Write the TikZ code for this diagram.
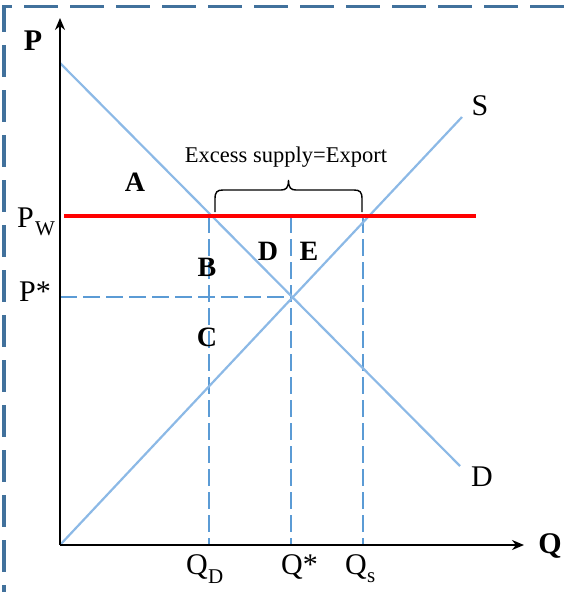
\documentclass[tikz,border=0pt]{standalone}
\usepackage{fontspec}
\setmainfont{Liberation Serif}
\usetikzlibrary{arrows.meta}
\definecolor{frameblue}{RGB}{65,113,156}
\definecolor{curveblue}{RGB}{140,185,230}
\definecolor{dashblue}{RGB}{91,155,213}
\tikzset{
  curve/.style={curveblue, line width=2.2pt},
  guide/.style={dashblue, line width=1.8pt, dash pattern=on 17pt off 6pt},
  pline/.style={red, line width=4.5pt},
  axis/.style={black, line width=1.8pt, -{Stealth[length=12pt,width=10pt]}},
  framel/.style={frameblue, line width=3.5pt},
  lbl/.style={inner sep=0pt, font=\fontsize{30}{30}\selectfont},
  sublbl/.style={inner sep=0pt, font=\fontsize{21}{21}\selectfont},
  blbl/.style={inner sep=0pt, font=\fontsize{28}{28}\selectfont\bfseries},
  axlbl/.style={inner sep=0pt, font=\fontsize{30}{30}\selectfont\bfseries},
  txt/.style={inner sep=0pt, font=\fontsize{22.5}{22.5}\selectfont},
  bracel/.style={black, line width=1.4pt},
}
\begin{document}
\begin{tikzpicture}[x=1pt,y=-1pt]
\useasboundingbox (0,0) rectangle (564,592);
% frame (top and left visible)
\coordinate (ftl) at (3,6.5);
\coordinate (ftr) at (564,6.5);
\coordinate (fl1) at (4,5);
\coordinate (fl2) at (4,592);
\draw[framel, dash pattern=on 34pt off 12pt, dash phase=25pt] (ftl) -- (ftr);
\draw[framel, dash pattern=on 32pt off 13pt, dash phase=5pt] (fl1) -- (fl2);
% key points
\coordinate (O) at (60,545);
\coordinate (ytop) at (60,18);
\coordinate (xend) at (524,545);
\coordinate (d1) at (60,63);
\coordinate (d2) at (460,466);
\coordinate (s1) at (60,545);
\coordinate (s2) at (462,117);
\coordinate (pw1) at (64,216);
\coordinate (pw2) at (476,216);
\coordinate (eq) at (291,297);
\coordinate (pstar) at (60,297);
\coordinate (qdt) at (209,216);
\coordinate (qdb) at (209,545);
\coordinate (qst) at (291,216);
\coordinate (qsb) at (291,545);
\coordinate (qsst) at (363,216);
\coordinate (qssb) at (363,545);
% guides
\draw[guide] (pstar) -- (eq);
\draw[guide] (qdt) -- (qdb);
\draw[guide] (qst) -- (qsb);
\draw[guide] (qsst) -- (qssb);
% curves
\draw[curve] (d1) -- (d2);
\draw[curve] (s1) -- (s2);
\draw[pline] (pw1) -- (pw2);
% axes
\draw[axis] (O) -- (ytop);
\draw[axis] (O) -- (xend);
% brace
\coordinate (bl) at (215,212);
\coordinate (bm) at (288.5,180);
\coordinate (br) at (362,212);
\draw[bracel] (bl) -- (215,199) .. controls (215,192) and (217,190) .. (223,190)
  -- (281,190) .. controls (286,190) and (288.5,188) .. (bm)
  .. controls (288.5,188) and (291,190) .. (296,190)
  -- (354,190) .. controls (360,190) and (362,192) .. (362,199) -- (br);
\node[txt, anchor=base] (exs) at (286,162) {Excess supply=Export};
% axis labels
\node[axlbl, anchor=base] (plab) at (33,50) {P};
\node[axlbl, anchor=base] (qlab) at (550,553) {Q};
\node[lbl, anchor=base] (slab) at (480,115) {S};
\node[lbl, anchor=base] (dlab) at (482,486) {D};
% price labels
\node[lbl, anchor=base west] (pwP) at (17,227) {P};
\node[sublbl, anchor=base west] (pwW) at (35,235) {W};
\node[lbl, anchor=base west] (psP) at (19,301) {P*};
% quantity labels
\node[lbl, anchor=base west] (qdQ) at (186,574) {Q};
\node[sublbl, anchor=base west] (qdD) at (208,583) {D};
\node[lbl, anchor=base west] (qsQ) at (281,574) {Q*};
\node[lbl, anchor=base west] (qssQ) at (345,574) {Q};
\node[sublbl, anchor=base west] (qsss) at (367,582) {s};
% area labels
\node[blbl] (A) at (135,182) {A};
\node[blbl] (B) at (207,267) {B};
\node[blbl] (C) at (207,337) {C};
\node[blbl] (Dl) at (268,251) {D};
\node[blbl] (E) at (309,251) {E};
\end{tikzpicture}
\end{document}
